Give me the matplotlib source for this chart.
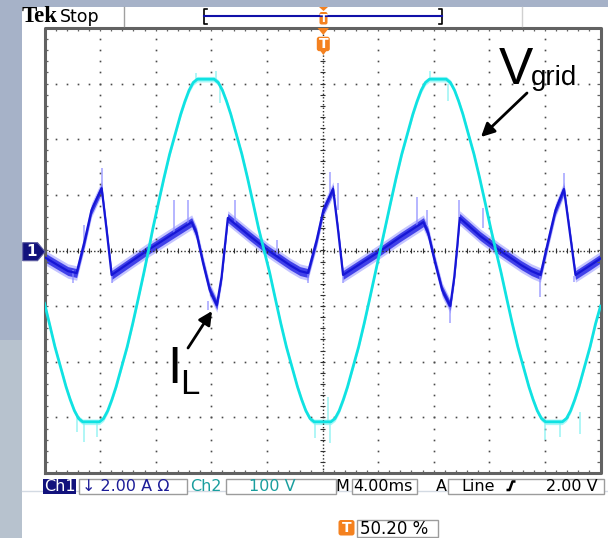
import numpy as np
import matplotlib.pyplot as plt
from matplotlib.patches import Rectangle, Polygon, FancyBboxPatch

W, H = 608, 538

# scope settings
time_scale = 4.0    # ms/div
ch1_scale = 2.0     # A/div
ch2_scale = 100.0   # V/div

# Ch2 - grid voltage (ms, V)
v_t = [-20.00, -19.65, -19.25, -18.85, -18.45, -18.15, -17.85, -17.55, -17.25,
       -16.05, -15.75, -15.45, -15.15, -14.85, -14.45, -14.05, -13.65, -13.25,
       -12.85, -12.52,
       -12.20, -11.80, -11.40, -11.00, -10.60, -10.20, -9.90, -9.60, -9.30,
       -9.00, -7.80, -7.50, -7.20, -6.90, -6.60, -6.20, -5.80, -5.40, -5.00,
       -4.60, -4.20,
       -3.80, -3.40, -3.00, -2.60, -2.20, -1.80, -1.50, -1.20, -0.90, -0.60,
       0.60, 0.90, 1.20, 1.50, 1.80, 2.20, 2.60, 3.00, 3.40, 3.80, 4.15,
       4.50, 4.90, 5.30, 5.70, 6.10, 6.50, 6.80, 7.10, 7.40, 7.70,
       8.90, 9.20, 9.50, 9.80, 10.10, 10.50, 10.90, 11.30, 11.70, 12.10, 12.47,
       12.85, 13.25, 13.65, 14.05, 14.45, 14.85, 15.15, 15.45, 15.75, 16.05,
       17.25, 17.55, 17.85, 18.15, 18.45, 18.85, 19.25, 19.65, 20.00]
v_val = [-95, -131, -173, -209, -245, -268, -288, -302, -308,
         -308, -302, -288, -268, -245, -209, -173, -131, -86,
         -40, 0,
         40, 86, 131, 173, 209, 245, 268, 288, 302,
         308, 308, 302, 288, 268, 245, 209, 173, 131, 86,
         40, 0,
         -40, -86, -131, -173, -209, -245, -268, -288, -302, -308,
         -308, -302, -288, -268, -245, -209, -173, -131, -86, -40, 0,
         40, 86, 131, 173, 209, 245, 268, 288, 302, 308,
         308, 302, 288, 268, 245, 209, 173, 131, 86, 40, 0,
         -40, -86, -131, -173, -209, -245, -268, -288, -302, -308,
         -308, -302, -288, -268, -245, -209, -173, -131, -100]

# Ch1 - inductor current (ms, A)
i_t = [-20.00, -19.03, -18.31, -17.69, -17.10, -16.62, -15.89, -15.53, -15.17,
       -12.67, -10.99, -9.41, -9.07, -8.59, -8.11, -7.60, -7.26, -7.03, -6.81,
       -5.23, -3.93, -2.34, -1.62, -1.05, -0.42, 0.06, 0.76, 1.12, 1.48,
       4.14, 5.59, 7.26, 7.60, 8.11, 8.61, 9.19, 9.48, 9.69, 9.87,
       11.35, 12.72, 14.31, 15.03, 15.68, 16.25, 16.76, 17.37, 17.77, 18.20,
       19.28, 20.00]
i_val = [-0.24, -0.53, -0.74, -0.81, 0.37, 1.45, 2.24, 0.73, -0.88,
         -0.02, 0.52, 1.02, 0.63, -0.45, -1.42, -1.96, -0.95, 0.13, 1.17,
         0.52, 0.01, -0.53, -0.74, -0.81, 0.37, 1.45, 2.21, 0.73, -0.88,
         -0.02, 0.48, 1.02, 0.63, -0.45, -1.42, -2.00, -0.95, 0.13, 1.17,
         0.52, 0.01, -0.53, -0.74, -0.88, 0.37, 1.45, 2.21, 0.73, -0.88,
         -0.53, -0.29]

# noise spikes (ms, from, to)
i_spike_t = [-17.98, -17.19, -15.88, -15.12, -10.65, -9.71, -8.25, -6.31, -3.30,
             -1.05, 0.54, 1.12, 1.48, 6.79, 7.51, 9.19, 9.84, 11.57, 15.68,
             17.35, 18.08]
i_spike_lo = [-0.70, 0.20, 2.24, -0.92, 0.63, 0.90, -1.80, 1.00, -0.17,
              -0.81, 2.00, 1.45, -0.92, 0.88, 0.90, -2.00, 1.17, 0.80, -0.88,
              2.21, -0.92]
i_spike_hi = [-1.17, 0.90, 2.96, -1.17, 1.81, 1.81, -2.15, 1.81, 0.37,
              -1.17, 2.82, 2.42, -1.17, 1.92, 1.45, -2.61, 1.81, 1.52, -1.67,
              2.78, -1.14]

v_spike_t = [-17.69, -17.19, -16.25, -9.07, -7.63, -7.39, -0.54, 0.40, 0.54,
             7.75, 9.05, 16.04, 17.12, 18.56]
v_spike_lo = [-300, -308, -308, 306, 306, 300, -308, -308, -308,
              306, 300, -305, -308, -290]
v_spike_hi = [-327, -345, -335, 319, 323, 265, -337, -263, -346,
              322, 268, -340, -335, -330]

fig = plt.figure(figsize=(W / 100, H / 100), dpi=100)

# page background
bg = fig.add_axes([0, 0, 1, 1])
bg.set_xlim(0, W)
bg.set_ylim(H, 0)
bg.axis('off')
bg.add_patch(Rectangle((0, 0), 22, 340, color='#a6b2c8', lw=0))
bg.add_patch(Rectangle((0, 340), 22, H - 340, color='#b7c2ce', lw=0))
bg.add_patch(Rectangle((0, 0), W, 7, color='#a6b2c8', lw=0))
bg.plot([22, W], [491, 491], color='#d3dae3', lw=1)

# graticule
ax = fig.add_axes([44.5 / W, (H - 473) / H, 556 / W, 445 / H])
ax.set_xlim(-5, 5)
ax.set_ylim(-4, 4)
ax.axis('off')

grid_col = '#4a4a4a'
minor_x = np.arange(-5, 5.001, 0.2)
minor_y = np.arange(-4, 4.001, 0.2)
for gx in [-4, -3, -2, -1, 1, 2, 3, 4]:
    ax.plot(np.full(len(minor_y), gx), minor_y, ls='none', marker='s',
            ms=1.2, mew=0, color=grid_col)
for gy in [-3, -2, -1, 1, 2, 3]:
    ax.plot(minor_x, np.full(len(minor_x), gy), ls='none', marker='s',
            ms=1.2, mew=0, color=grid_col)

# center cross with minor ticks
ax.plot([-5, 5], [0, 0], ls=(0, (1, 1.5)), lw=1, color='#303030')
ax.plot([0, 0], [-4, 4], ls=(0, (1, 1.5)), lw=1, color='#303030')
ax.vlines(minor_x, -0.045, 0.045, color='#303030', lw=0.8)
ax.hlines(minor_y, -0.045, 0.045, color='#303030', lw=0.8)

# frame with edge ticks
ax.plot([-5, 5, 5, -5, -5], [-4, -4, 4, 4, -4], color='#626262', lw=2.2,
        clip_on=False)
ax.vlines(minor_x, 4 - 0.06, 4, color='#626262', lw=0.9)
ax.vlines(minor_x, -4, -4 + 0.06, color='#626262', lw=0.9)
ax.hlines(minor_y, -5, -5 + 0.06, color='#626262', lw=0.9)
ax.hlines(minor_y, 5 - 0.06, 5, color='#626262', lw=0.9)

# Ch1 trace
ix = np.array(i_t) / time_scale
iy = np.array(i_val) / ch1_scale
ax.vlines(np.array(i_spike_t) / time_scale, np.array(i_spike_lo) / ch1_scale,
          np.array(i_spike_hi) / ch1_scale, color='#8c8cff', lw=1.2, alpha=0.75)
ax.fill_between(ix, iy - 0.13, iy + 0.13, color='#7c7cff', alpha=0.45, lw=0)
ax.fill_between(ix, iy - 0.08, iy + 0.08, color='#2a2ae6', alpha=0.85, lw=0)
ax.plot(ix, iy, color='#1616d6', lw=1.6)

# Ch2 trace
vx = np.array(v_t) / time_scale
vy = np.array(v_val) / ch2_scale
ax.vlines(np.array(v_spike_t) / time_scale, np.array(v_spike_lo) / ch2_scale,
          np.array(v_spike_hi) / ch2_scale, color='#8af2f2', lw=1.2, alpha=0.8)
ax.fill_between(vx, vy - 0.05, vy + 0.05, color='#50f0f0', alpha=0.5, lw=0)
ax.plot(vx, vy, color='#10e2e2', lw=2)

# overlay: readouts, markers, labels
ov = fig.add_axes([0, 0, 1, 1], zorder=5)
ov.set_xlim(0, W)
ov.set_ylim(H, 0)
ov.axis('off')
ov.patch.set_alpha(0)

orange = '#f4811f'
navy = '#12127c'

# header
ov.text(22, 22.5, 'Tek', fontfamily='Liberation Serif', fontweight='bold',
        fontsize=16.5, va='baseline', color='black')
ov.text(60, 22, 'Stop', fontfamily='DejaVu Sans', fontsize=12.5,
        va='baseline', color='black')
ov.plot([124, 124], [7, 26], color='#a0a0a0', lw=1)
ov.plot([521.7, 521.7], [7, 26], color='#d0d0d0', lw=1)
ov.plot([207, 204, 204, 207], [9, 9, 24, 24], color='black', lw=1.2)
ov.plot([438.7, 441.7, 441.7, 438.7], [9, 9, 24, 24], color='black', lw=1.2)
ov.plot([204, 441.7], [16, 16], color='#1010a8', lw=1.5)
ov.add_patch(Polygon([(319, 7), (328, 7), (323.5, 11)], color=orange, lw=0))
ov.add_patch(FancyBboxPatch((319.5, 12), 8, 12.5, boxstyle='round,pad=0,rounding_size=2',
                            fc=orange, ec='none'))
ov.text(323.5, 18.5, 'T', color='white', fontsize=8, fontweight='bold',
        ha='center', va='center')

# trigger position marker
ov.add_patch(Polygon([(317.5, 28), (329, 28), (323.3, 35)], color=orange, lw=0))
ov.add_patch(FancyBboxPatch((316.8, 36.7), 13, 14.5, boxstyle='round,pad=0,rounding_size=2.5',
                            fc=orange, ec='none'))
ov.add_patch(Polygon([(320.5, 51), (326.3, 51), (323.3, 55)], color=orange, lw=0))
ov.text(323.3, 44.5, 'T', color='white', fontsize=10, fontweight='bold',
        ha='center', va='center')

# Ch1 ground marker
ov.add_patch(Polygon([(22.7, 242.7), (37.5, 242.7), (45, 251.7), (37.5, 260.7),
                      (22.7, 260.7)], fc=navy, ec='#5c5ca0', lw=0.8))
ov.text(31.5, 252, '1', color='white', fontsize=11, fontweight='bold',
        ha='center', va='center')

# status bar
sfont = dict(fontfamily='DejaVu Sans', fontsize=11.5, va='baseline')
box_ec = '#9c9c9c'
ov.add_patch(Rectangle((43.3, 479), 33, 14.5, fc=navy, ec='none'))
ov.text(44.3, 491, 'Ch1', color='white', **sfont)
ov.add_patch(Rectangle((78.7, 478.5), 108.6, 15.5, fc='white', ec=box_ec, lw=1))
ov.text(81.7, 491, '↓ 2.00 A Ω', color='#1c1c98', **sfont)
ov.text(190, 491, 'Ch2', color='#1a9e9e', **sfont)
ov.add_patch(Rectangle((225.7, 478.5), 110, 15.5, fc='white', ec=box_ec, lw=1))
ov.text(249, 491, '100 V', color='#1a9e9e', **sfont)
ov.text(335.5, 491, 'M', color='black', **sfont)
ov.add_patch(Rectangle((351.7, 478.5), 65.6, 15.5, fc='white', ec=box_ec, lw=1))
ov.text(353, 491, '4.00ms', color='black', **sfont)
ov.text(436, 491, 'A', color='black', **sfont)
ov.add_patch(Rectangle((448, 478.5), 156, 15.5, fc='white', ec=box_ec, lw=1))
ov.text(461.7, 491, 'Line', color='black', **sfont)
ov.plot([506.5, 509.5, 512.5, 515.5], [490, 490, 481.5, 481.5], color='black',
        lw=1.8, solid_capstyle='butt')
ov.text(546.5, 491, '2.00 V', color='black', **sfont)

# trigger level readout
ov.add_patch(FancyBboxPatch((338.5, 520), 16, 15.5, boxstyle='round,pad=0,rounding_size=2.5',
                            fc=orange, ec='none'))
ov.text(346.5, 528, 'T', color='white', fontsize=10, fontweight='bold',
        ha='center', va='center')
ov.add_patch(Rectangle((356.7, 519.5), 81.6, 17.5, fc='white', ec=box_ec, lw=1))
ov.text(360, 534.5, '50.20 %', color='black', fontfamily='DejaVu Sans',
        fontsize=12, va='baseline')

# signal labels
lfont = dict(fontfamily='Liberation Sans', color='black', va='baseline')
ov.text(499, 84, 'V', fontsize=37, **lfont)
ov.text(531, 85, 'grid', fontsize=20, **lfont)
ov.annotate('', xy=(481, 137), xytext=(527, 93),
            arrowprops=dict(arrowstyle='-|>', color='black', lw=2,
                            mutation_scale=20, shrinkA=0, shrinkB=0))
ov.text(167, 383, 'I', fontsize=37, **lfont)
ov.text(180, 394, 'L', fontsize=25, **lfont)
ov.annotate('', xy=(212, 311), xytext=(188, 348),
            arrowprops=dict(arrowstyle='-|>', color='black', lw=2,
                            mutation_scale=20, shrinkA=0, shrinkB=0))

fig.savefig('out.png', dpi=100)
